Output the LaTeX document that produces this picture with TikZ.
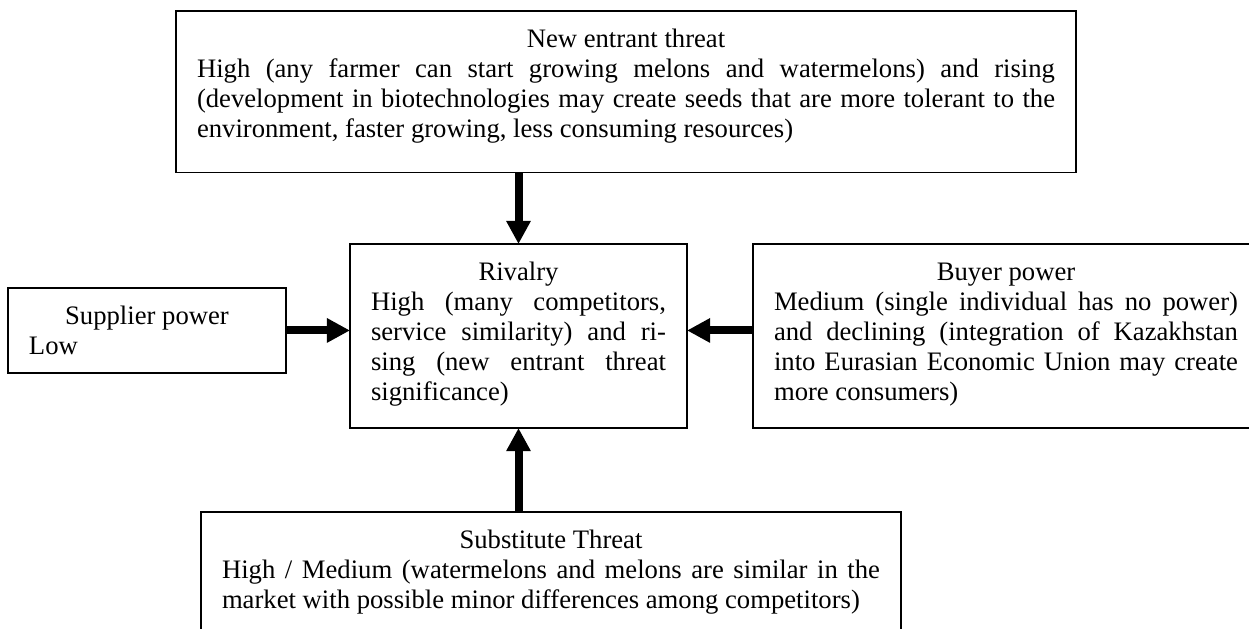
\documentclass[tikz,border=0pt]{standalone}
\usepackage{fontspec}
\setmainfont{Liberation Serif}
\usetikzlibrary{arrows.meta}
\tolerance=10000
\hbadness=10000

\begin{document}
\begin{tikzpicture}[x=0.45pt,y=-0.45pt,
    forcebox/.style={draw=black,line width=0.7pt,anchor=north west,align=justify,
        inner xsep=9.45pt,inner ysep=6.7pt,outer sep=0pt,
        font=\fontsize{12}{13.6}\selectfont},
    forcearrow/.style={-{Triangle[length=10.4pt,width=10.4pt]},line width=3.6pt}]
    \useasboundingbox (0,0) rectangle (1249,629);
    \clip (0,0) rectangle (1249,629);
        \node[forcebox,text width=386.1pt,text depth=49.8pt] (entrant) at (176,11)
            {{\centering\strut New entrant threat\par}
            High (any farmer can start growing melons and watermelons) and rising\linebreak
            (development in biotechnologies may create seeds that are more tolerant to the\linebreak
            environment, faster growing, less consuming resources)};
        \node[forcebox,text width=132.75pt,text depth=59.9pt] (rivalry) at (350,244)
            {{\centering\strut Rivalry\par}
            High (many competitors,\linebreak
            service similarity) and ri-\linebreak
            sing (new entrant threat\linebreak
            significance)};
        \node[forcebox,text width=106.2pt,text depth=15.3pt] (supplier) at (8,288)
            {{\centering\strut Supplier power\par}
            Low};
        \node[forcebox,text width=208.8pt,text depth=59.9pt] (buyer) at (753,244)
            {{\centering\strut Buyer power\par}
            Medium (single individual has no power)\linebreak
            and declining (integration of Kazakhstan\linebreak
            into Eurasian Economic Union may create\linebreak
            more consumers)};
        \node[forcebox,text width=296.1pt,text depth=39.2pt] (subst) at (201,512)
            {{\centering\strut Substitute Threat\par}
            High / Medium (watermelons and melons are similar in the\linebreak
            market with possible minor differences among competitors)};
        \path [forcearrow] (rivalry.north |- entrant.south) edge (rivalry.north);
        \path [forcearrow] (supplier.east) edge (supplier.east -| rivalry.west);
        \path [forcearrow] (buyer.west |- supplier.east) edge (rivalry.east |- supplier.east);
        \path [forcearrow] (rivalry.south |- subst.north) edge (rivalry.south);
    \end{tikzpicture}
\end{document}
